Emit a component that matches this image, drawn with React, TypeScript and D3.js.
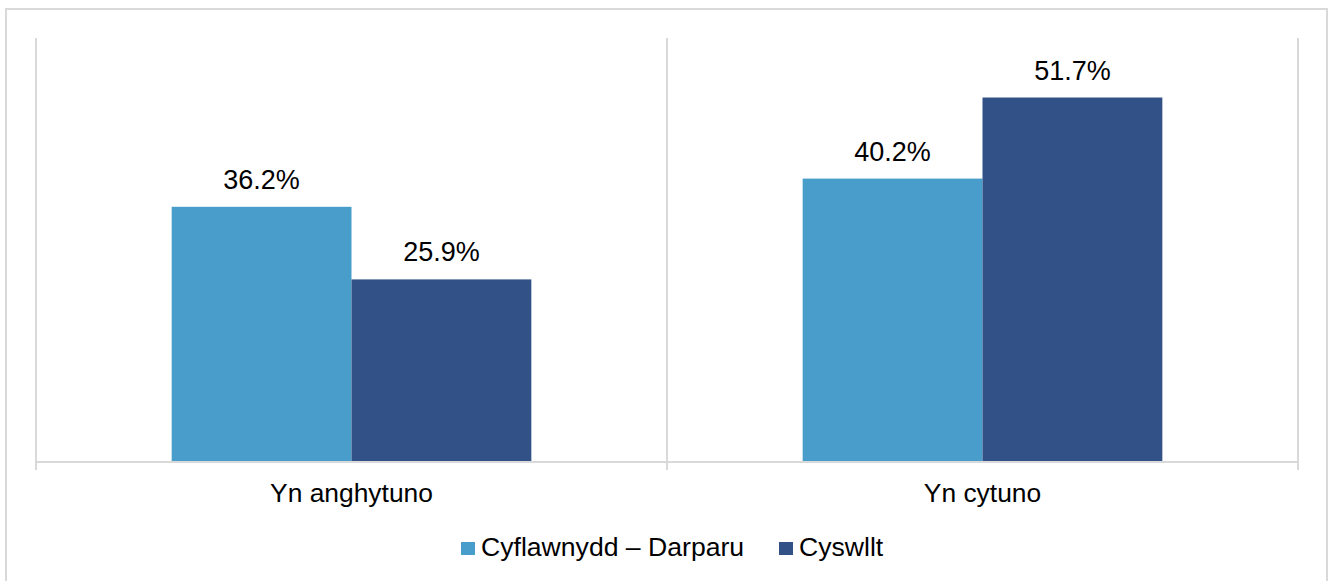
import React, { useEffect, useRef } from "react";
import * as d3 from "d3";

// chart values
const categories = ["Yn anghytuno", "Yn cytuno"];
const seriesNames = ["Cyflawnydd – Darparu", "Cyswllt"];
const deliverValues = [36.2, 40.2];
const contactValues = [25.9, 51.7];
const colors = ["#489dca", "#325186"];

const W = 1328;
const H = 581;

const App = () => {
  const svgRef = useRef<SVGSVGElement>(null);

  useEffect(() => {
    const svg = d3.select(svgRef.current);
    svg.selectAll("*").remove();

    const font = "'Liberation Sans', Arial, sans-serif";
    const grid = "#d9d9d9";
    const left = 36;
    const right = 1298;
    const bottom = 462;
    const top = 39;

    // outer frame
    svg
      .append("rect")
      .attr("x", 6)
      .attr("y", 9)
      .attr("width", 1321)
      .attr("height", 620)
      .attr("fill", "#fff")
      .attr("stroke", grid)
      .attr("stroke-width", 2);

    const x0 = d3.scaleBand().domain(categories).range([left, right]);
    const groupW = x0.bandwidth() * 0.57;
    const x1 = d3.scaleBand().domain(seriesNames).range([0, groupW]);
    const y = d3.scaleLinear().domain([0, 60]).range([bottom, top]);

    // category separators
    const edges = [left, ...categories.map((c) => (x0(c) as number) + x0.bandwidth())];
    svg
      .selectAll("line.sep")
      .data(edges)
      .enter()
      .append("line")
      .attr("x1", (d) => d)
      .attr("x2", (d) => d)
      .attr("y1", top - 1)
      .attr("y2", bottom + 8)
      .attr("stroke", grid)
      .attr("stroke-width", 2);

    svg
      .append("line")
      .attr("x1", left)
      .attr("x2", right)
      .attr("y1", bottom)
      .attr("y2", bottom)
      .attr("stroke", grid)
      .attr("stroke-width", 2);

    const rows = categories.flatMap((c, i) => [
      { cat: c, s: seriesNames[0], v: deliverValues[i], k: 0 },
      { cat: c, s: seriesNames[1], v: contactValues[i], k: 1 },
    ]);

    const gx = (d: any) =>
      (x0(d.cat) as number) + (x0.bandwidth() - groupW) / 2 + (x1(d.s) as number);

    svg
      .selectAll("rect.bar")
      .data(rows)
      .enter()
      .append("rect")
      .attr("x", gx)
      .attr("y", (d) => y(d.v))
      .attr("width", x1.bandwidth())
      .attr("height", (d) => bottom - 1 - y(d.v))
      .attr("fill", (d) => colors[d.k]);

    svg
      .selectAll("text.lbl")
      .data(rows)
      .enter()
      .append("text")
      .attr("x", (d) => gx(d) + x1.bandwidth() / 2)
      .attr("y", (d) => y(d.v) - 18)
      .attr("text-anchor", "middle")
      .attr("font-family", font)
      .attr("font-size", 27)
      .attr("fill", "#000")
      .text((d) => d.v.toFixed(1) + "%");

    svg
      .selectAll("text.cat")
      .data(categories)
      .enter()
      .append("text")
      .attr("x", (d) => (x0(d) as number) + x0.bandwidth() / 2)
      .attr("y", 502)
      .attr("text-anchor", "middle")
      .attr("font-family", font)
      .attr("font-size", 26.4)
      .attr("fill", "#000")
      .text((d) => d);

    // legend
    const legendX = [461, 779];
    const lg = svg
      .selectAll("g.leg")
      .data(seriesNames)
      .enter()
      .append("g")
      .attr("transform", (d, i) => `translate(${legendX[i]},542)`);
    lg.append("rect")
      .attr("width", 14)
      .attr("height", 13)
      .attr("fill", (d, i) => colors[i]);
    lg.append("text")
      .attr("x", 20)
      .attr("y", 14)
      .attr("font-family", font)
      .attr("font-size", 26.6)
      .attr("fill", "#000")
      .text((d) => d);
  }, []);

  return (
    <svg
      ref={svgRef}
      width={W}
      height={H}
      style={{ position: "absolute", left: 0, top: 0, background: "#fff" }}
    ></svg>
  );
};

export default App;
